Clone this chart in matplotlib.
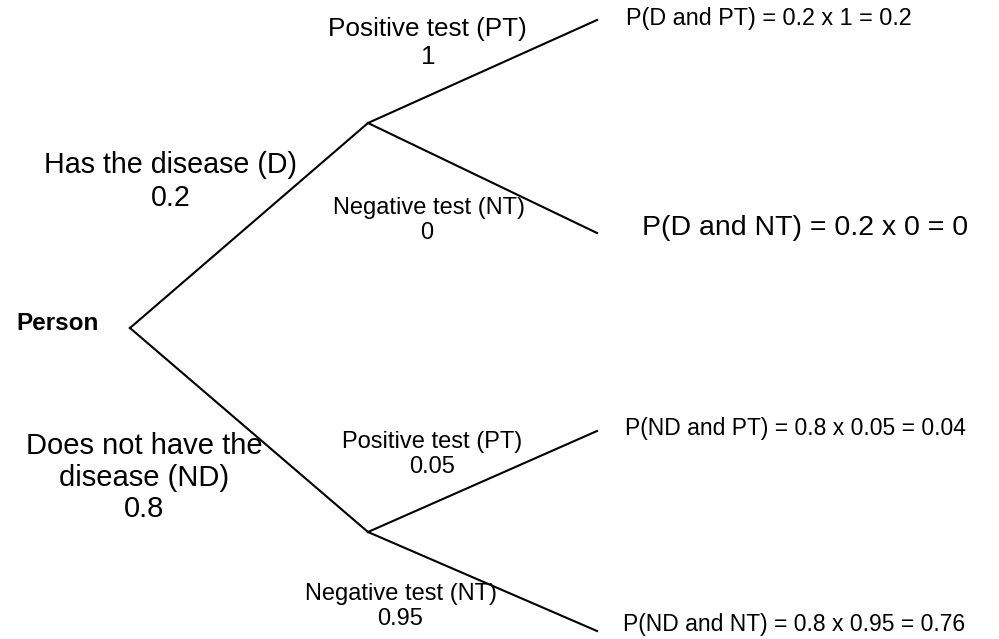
import matplotlib.pyplot as plt

plt.rcParams['font.family'] = ['Liberation Sans', 'DejaVu Sans']

# probabilidades do arbore
p_disease = [0.2, 0.8]
disease_labels = ['Has the disease (D)', 'Does not have the\ndisease (ND)']
p_test = [[1, 0], [0.05, 0.95]]
test_labels = ['Positive test (PT)', 'Negative test (NT)']
joint_text = ['P(D and PT) = 0.2 x 1 = 0.2',
              'P(D and NT) = 0.2 x 0 = 0',
              'P(ND and PT) = 0.8 x 0.05 = 0.04',
              'P(ND and NT) = 0.8 x 0.95 = 0.76']

def fmt(v):
    return f'{v:g}'

fig = plt.figure(figsize=(9.99, 6.39), dpi=100)
ax = fig.add_axes([0, 0, 1, 1])
ax.set_xlim(0, 999)
ax.set_ylim(639, 0)
ax.axis('off')

# posicions dos nodos (pixeles)
root = (130, 328)
mid = [(368, 123), (368, 532)]
ends = [[(597, 20), (597, 233)], [(597, 431), (597, 631)]]

lw = 1.5
for i in range(2):
    ax.plot([root[0], mid[i][0]], [root[1], mid[i][1]], color='black', lw=lw)
    for j in range(2):
        ax.plot([mid[i][0], ends[i][j][0]], [mid[i][1], ends[i][j][1]], color='black', lw=lw)

ax.text(16, 324, 'Person', fontsize=17.5, fontweight='bold', ha='left', va='center')

# ramas primeiras
ax.text(170, 165, disease_labels[0], fontsize=20.6, ha='center', va='center')
ax.text(171, 198, fmt(p_disease[0]), fontsize=20.6, ha='center', va='center')
nd_lines = disease_labels[1].split('\n') + [fmt(p_disease[1])]
for k, s in enumerate(nd_lines):
    ax.text(144, 446 + 31.5 * k, s, fontsize=21, ha='center', va='center')

# ramas segundas
ax.text(427, 29, test_labels[0], fontsize=18.8, ha='center', va='center')
ax.text(428, 57, fmt(p_test[0][0]), fontsize=18.8, ha='center', va='center')
ax.text(429, 208, test_labels[1], fontsize=17, ha='center', va='center')
ax.text(427, 233, fmt(p_test[0][1]), fontsize=17, ha='center', va='center')
ax.text(432, 442, test_labels[0], fontsize=17, ha='center', va='center')
ax.text(432, 467, fmt(p_test[1][0]), fontsize=17, ha='center', va='center')
ax.text(401, 594, test_labels[1], fontsize=17, ha='center', va='center')
ax.text(400, 619, fmt(p_test[1][1]), fontsize=17, ha='center', va='center')

# resultados
ax.text(626, 19, joint_text[0], fontsize=16.8, ha='left', va='center')
ax.text(642, 228, joint_text[1], fontsize=20.5, ha='left', va='center')
ax.text(625, 428, joint_text[2], fontsize=16.5, ha='left', va='center')
ax.text(623, 625, joint_text[3], fontsize=16.5, ha='left', va='center')

plt.savefig('out.png', dpi=100)
